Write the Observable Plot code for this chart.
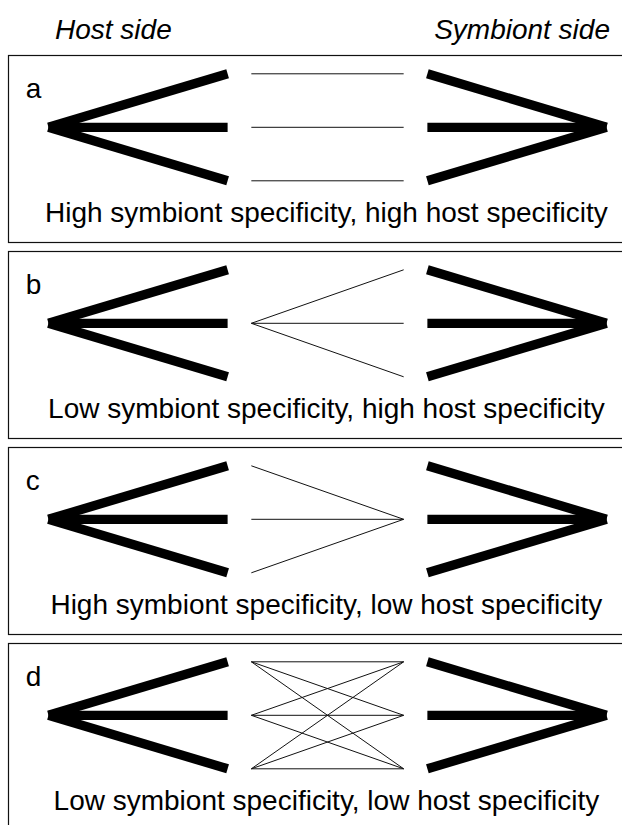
<!DOCTYPE html>
<html><head><meta charset="utf-8">
<script src="https://cdn.jsdelivr.net/npm/d3@7"></script>
<script src="https://cdn.jsdelivr.net/npm/@observablehq/plot@0.6"></script>
<style>
body{margin:0;background:#fff;}
#wrap{position:relative;width:622px;height:825px;overflow:hidden;background:#fff;font-family:"Liberation Sans",Arial,Helvetica,sans-serif;}
#header{position:relative;height:50px;}
#header span{position:absolute;font-style:italic;font-size:28px;line-height:28px;top:16px;color:#000;white-space:nowrap;}
#host{left:55px;}
#sym{right:12px;}
#chart svg{display:block;max-width:none !important;}
</style></head><body>
<div id="wrap"><div id="header"><span id="host"></span><span id="sym"></span></div><div id="chart"></div></div>
<script>
// ---- data ----
const sideLabels = ["Host side", "Symbiont side"];
const panelIds = ["a", "b", "c", "d"];
const captions = [
  "High symbiont specificity, high host specificity",
  "Low symbiont specificity, high host specificity",
  "High symbiont specificity, low host specificity",
  "Low symbiont specificity, low host specificity"
];
const hostRows = [0, 1, 2];
const symbiontRows = [0, 1, 2];
const centralRow = 1;
// association links: [host row, symbiont row]
const linksA = [[0, 0], [1, 1], [2, 2]];
const linksB = [[1, 0], [1, 1], [1, 2]];
const linksC = [[0, 1], [1, 1], [2, 1]];
const linksD = [[0, 0], [0, 1], [0, 2], [1, 0], [1, 1], [1, 2], [2, 0], [2, 1], [2, 2]];
const panelLinks = [linksA, linksB, linksC, linksD];

// ---- layout (abstract units, not data) ----
const layout = {hostVertex: -1, hostTip: -0.358, linkHost: -0.273, linkSym: 0.273, symTip: 0.358, symVertex: 1,
  labelX: -1.082, captionX: -0.004, labelRow: 0.293, captionRow: 2.593};

document.getElementById("host").textContent = sideLabels[0];
document.getElementById("sym").textContent = sideLabels[1];

const hostArms = hostRows.map(r => ({x1: layout.hostVertex, y1: centralRow, x2: layout.hostTip, y2: r}));
const symArms = symbiontRows.map(r => ({x1: layout.symTip, y1: r, x2: layout.symVertex, y2: centralRow}));
const thinLinks = panelIds.flatMap((p, i) => panelLinks[i].map(([h, s]) => ({panel: p, host: h, sym: s})));
const labels = panelIds.map((p, i) => ({panel: p, caption: captions[i]}));

const font = "'Liberation Sans', Arial, Helvetica, sans-serif";
const chart = Plot.plot({
  width: 640, height: 780,
  marginTop: 4, marginBottom: 0, marginLeft: 8, marginRight: 0,
  x: {domain: [-1.1434, 1.1219], axis: null},
  y: {domain: [-0.342, 3.153], reverse: true, axis: null},
  fy: {domain: panelIds, paddingInner: 0.0474, paddingOuter: 0, axis: null},
  style: {fontFamily: font, background: "white", overflow: "visible", maxWidth: "none"},
  marks: [
    Plot.frame({stroke: "#111", strokeWidth: 1.2}),
    Plot.link(hostArms, {x1: "x1", y1: "y1", x2: "x2", y2: "y2", stroke: "black", strokeWidth: 9.3, strokeLinecap: "butt"}),
    Plot.link(symArms, {x1: "x1", y1: "y1", x2: "x2", y2: "y2", stroke: "black", strokeWidth: 9.3, strokeLinecap: "butt"}),
    Plot.link(thinLinks, {x1: () => layout.linkHost, y1: "host", x2: () => layout.linkSym, y2: "sym", fy: "panel", stroke: "#111", strokeWidth: 1}),
    Plot.text(labels, {x: () => layout.labelX, y: () => layout.labelRow, fy: "panel", text: "panel", textAnchor: "start", fontSize: 28, fill: "black"}),
    Plot.text(labels, {x: () => layout.captionX, y: () => layout.captionRow, fy: "panel", text: "caption", textAnchor: "middle", fontSize: 28, fill: "black"})
  ]
});
document.getElementById("chart").appendChild(chart);
</script>
</body></html>
